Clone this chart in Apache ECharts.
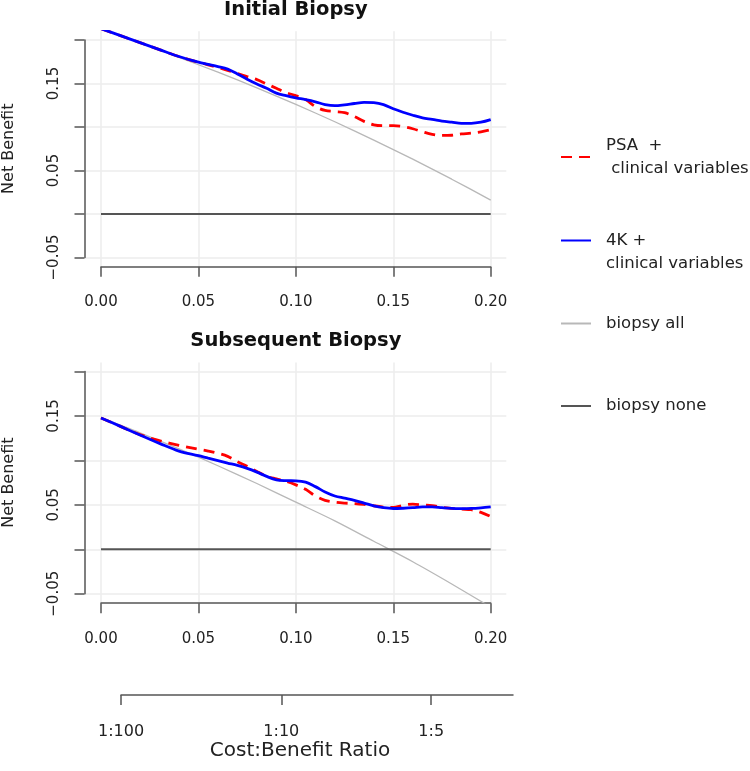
<!DOCTYPE html>
<html><head><meta charset="utf-8">
<script src="https://cdn.jsdelivr.net/npm/echarts@6/dist/echarts.min.js"></script>
<style>html,body{margin:0;padding:0;background:#fff}#chart{width:750px;height:771px}</style>
</head><body><div id="chart"></div>
<script>
// ---- data ----
const thresholds = [0, 0.01, 0.02, 0.03, 0.04, 0.05, 0.055, 0.06, 0.065, 0.07, 0.075, 0.08, 0.085, 0.09, 0.095, 0.10,
  0.105, 0.11, 0.115, 0.12, 0.125, 0.13, 0.135, 0.14, 0.145, 0.15, 0.155, 0.16, 0.165, 0.17, 0.175, 0.18, 0.185, 0.19, 0.195, 0.20];
const grayThresholds = [0, 0.02, 0.04, 0.06, 0.08, 0.10, 0.12, 0.14, 0.16, 0.18, 0.20];
const noneThresholds = [0, 0.20];

const initial4K = [0.213, 0.205, 0.197, 0.189, 0.181, 0.1745, 0.172, 0.1695, 0.1665, 0.161, 0.155, 0.1495, 0.1445, 0.139, 0.136, 0.1335,
  0.1315, 0.129, 0.1258, 0.1245, 0.1255, 0.127, 0.1283, 0.128, 0.1258, 0.121, 0.117, 0.1135, 0.1105, 0.1088, 0.1068, 0.1055, 0.1042, 0.1042, 0.1055, 0.1085];
const initialPSA = [0.213, 0.205, 0.197, 0.189, 0.181, 0.1745, 0.1715, 0.1685, 0.165, 0.1615, 0.158, 0.1545, 0.1495, 0.1445, 0.1395, 0.136,
  0.1315, 0.1235, 0.119, 0.1178, 0.1165, 0.112, 0.1065, 0.1025, 0.1015, 0.1015, 0.1005, 0.098, 0.0945, 0.0915, 0.0903, 0.0905, 0.092, 0.093, 0.0945, 0.0969];
const initialAll = [0.213, 0.197, 0.180, 0.163, 0.145, 0.126, 0.106, 0.085, 0.063, 0.040, 0.016];
const initialNone = [0, 0];

const subsequent4K = [0.1477, 0.1383, 0.1286, 0.1192, 0.1105, 0.1053, 0.1025, 0.0998, 0.097, 0.0943, 0.091, 0.0868, 0.082, 0.0782, 0.0772, 0.077,
  0.0755, 0.0705, 0.0645, 0.060, 0.0575, 0.055, 0.052, 0.0488, 0.0468, 0.0459, 0.0462, 0.0468, 0.0478, 0.0478, 0.0468, 0.046, 0.0458, 0.046, 0.0467, 0.0477];
const subsequentPSA = [0.1477, 0.1383, 0.129, 0.1222, 0.117, 0.1125, 0.1105, 0.108, 0.1045, 0.0985, 0.0935, 0.0875, 0.0822, 0.0792, 0.0765, 0.0725,
  0.0675, 0.060, 0.055, 0.053, 0.052, 0.0515, 0.0505, 0.049, 0.0475, 0.047, 0.0495, 0.0508, 0.0498, 0.0492, 0.0472, 0.046, 0.0452, 0.0445, 0.0415, 0.0368];
const subsequentAll = [0.148, 0.131, 0.113, 0.094, 0.074, 0.053, 0.032, 0.009, -0.014, -0.039, -0.065];
const subsequentNone = [0, 0];

const panelTitles = ['Initial Biopsy', 'Subsequent Biopsy'];
const seriesNames = ['PSA + clinical variables', '4K + clinical variables', 'biopsy all', 'biopsy none'];
const legendTexts = ['PSA  +\n clinical variables', '\n4K +\nclinical variables', 'biopsy all', 'biopsy none'];
const xTickValues = [0, 0.05, 0.10, 0.15, 0.20];
const yTickValues = [-0.05, 0, 0.05, 0.10, 0.15, 0.20];
const yLabelValues = [-0.05, 0.05, 0.15];
const costBenefitTicks = [1 / 101, 1 / 11, 1 / 6];
const costBenefitLabels = ['1:100', '1:10', '1:5'];

// ---- layout / style ----
const FONT = "'DejaVu Sans', sans-serif";
const AXIS_COLOR = '#555';
const TEXT_COLOR = '#222';
const X0 = 101, XPX = 1948.5;
const panels = [
  { title: panelTitles[0], titleY: 10, zeroY: 214, unit: 870, psa: initialPSA, k4: initial4K, all: initialAll, none: initialNone },
  { title: panelTitles[1], titleY: 340.5, zeroY: 549.3, unit: 889, psa: subsequentPSA, k4: subsequent4K, all: subsequentAll, none: subsequentNone }
];
const zip = (xs, ys) => xs.map((x, i) => [x, ys[i]]);
const fmt = v => (v < 0 ? '\u2212' : '') + Math.abs(v).toFixed(2);

const grids = [], xAxes = [], yAxes = [], series = [], graphics = [];
panels.forEach((p) => {
  const gA = grids.length;
  // plot region (data + grid lines)
  grids.push({ left: X0 - 0.008 * XPX, width: 0.216 * XPX, top: p.zeroY - 0.21 * p.unit, height: 0.27 * p.unit, outerBoundsMode: 'none', containLabel: false });
  // axis frame (0..0.20, -0.05..0.20)
  grids.push({ left: X0, width: 0.2 * XPX, top: p.zeroY - 0.2 * p.unit, height: 0.25 * p.unit, outerBoundsMode: 'none', containLabel: false });
  const gridLine = { show: true, lineStyle: { color: '#ececec', width: 1.5 } };
  xAxes.push({ gridIndex: gA, type: 'value', min: -0.008, max: 0.208, axisLine: { show: false }, axisLabel: { show: false },
    axisTick: { show: false, customValues: xTickValues }, splitLine: gridLine });
  yAxes.push({ gridIndex: gA, type: 'value', min: -0.06, max: 0.21, axisLine: { show: false }, axisLabel: { show: false },
    axisTick: { show: false, customValues: yTickValues }, splitLine: gridLine });
  xAxes.push({ gridIndex: gA + 1, type: 'value', min: 0, max: 0.2, interval: 0.05, offset: 0.01 * p.unit + 0.5,
    axisLine: { show: true, onZero: false, lineStyle: { color: AXIS_COLOR, width: 1.5 } },
    axisTick: { show: true, length: 10, lineStyle: { color: AXIS_COLOR, width: 1.5 } },
    axisLabel: { margin: 28, fontSize: 15, fontFamily: FONT, color: TEXT_COLOR, formatter: fmt },
    splitLine: { show: false } });
  yAxes.push({ gridIndex: gA + 1, type: 'value', min: -0.05, max: 0.2, interval: 0.05, offset: 16.5,
    axisLine: { show: true, onZero: false, lineStyle: { color: AXIS_COLOR, width: 1.5 } },
    axisTick: { show: true, length: 10, lineStyle: { color: AXIS_COLOR, width: 1.5 } },
    axisLabel: { customValues: yLabelValues, rotate: 90, margin: 23, fontSize: 15, fontFamily: FONT, color: TEXT_COLOR, formatter: fmt },
    splitLine: { show: false },
    name: 'Net Benefit', nameLocation: 'middle', nameRotate: 90, nameGap: 68,
    nameTextStyle: { fontSize: 16, fontFamily: FONT, color: TEXT_COLOR } });

  const common = { type: 'line', xAxisIndex: gA, yAxisIndex: gA, symbol: 'none', clip: true, animation: false };
  series.push(Object.assign({}, common, { name: seriesNames[2], data: zip(grayThresholds, p.all), smooth: 0.3,
    lineStyle: { color: '#b8b8b8', width: 1.3 }, itemStyle: { color: '#b8b8b8' } }));
  series.push(Object.assign({}, common, { name: seriesNames[3], data: zip(noneThresholds, p.none),
    lineStyle: { color: '#555', width: 2 }, itemStyle: { color: '#555' } }));
  series.push(Object.assign({}, common, { name: seriesNames[0], data: zip(thresholds, p.psa), smooth: 0.35,
    lineStyle: { color: '#ff0000', width: 2.8, type: [11, 7] }, itemStyle: { color: '#ff0000' } }));
  series.push(Object.assign({}, common, { name: seriesNames[1], data: zip(thresholds, p.k4), smooth: 0.35,
    lineStyle: { color: '#0000ff', width: 2.8 }, itemStyle: { color: '#0000ff' } }));

  graphics.push({ type: 'text', x: X0 + 0.1 * XPX, y: p.titleY, silent: true,
    style: { text: p.title, fontSize: 19.5, fontWeight: 'bold', fontFamily: FONT, fill: '#111', align: 'center', verticalAlign: 'middle' } });
});

// cost:benefit axis
grids.push({ left: 121, width: 392, top: 680, height: 15, outerBoundsMode: 'none', containLabel: false });
xAxes.push({ gridIndex: 4, type: 'value', min: costBenefitTicks[0], max: 0.208,
  axisLine: { show: true, onZero: false, lineStyle: { color: AXIS_COLOR, width: 1.5 } },
  axisTick: { show: true, length: 10, customValues: costBenefitTicks, lineStyle: { color: AXIS_COLOR, width: 1.5 } },
  axisLabel: { customValues: costBenefitTicks, margin: 29, fontSize: 16, fontFamily: FONT, color: TEXT_COLOR,
    formatter: v => { let best = 0; costBenefitTicks.forEach((t, i) => { if (Math.abs(t - v) < Math.abs(costBenefitTicks[best] - v)) best = i; }); return costBenefitLabels[best]; } },
  splitLine: { show: false },
  name: 'Cost:Benefit Ratio', nameLocation: 'middle', nameGap: 46,
  nameTextStyle: { fontSize: 20, fontFamily: FONT, color: TEXT_COLOR, padding: [0, 34, 0, 0] } });
yAxes.push({ gridIndex: 4, type: 'value', show: false, min: 0, max: 1 });

const legendTops = [133, 205, 311, 393.5];
const legends = seriesNames.map((n, i) => ({
  data: [n], orient: 'vertical', left: 560, top: legendTops[i], padding: 0, itemWidth: 30, itemHeight: 14,
  formatter: () => legendTexts[i], selectedMode: false,
  itemStyle: { color: 'rgba(0,0,0,0)', borderWidth: 0, opacity: 0 },
  textStyle: { fontSize: 16.5, fontFamily: FONT, color: TEXT_COLOR, lineHeight: 23, padding: [2, 0, 0, 10] }
}));

const chart = echarts.init(document.getElementById('chart'));
chart.setOption({
  animation: false,
  backgroundColor: '#fff',
  grid: grids, xAxis: xAxes, yAxis: yAxes, series: series,
  legend: legends, graphic: graphics
});
</script></body></html>
